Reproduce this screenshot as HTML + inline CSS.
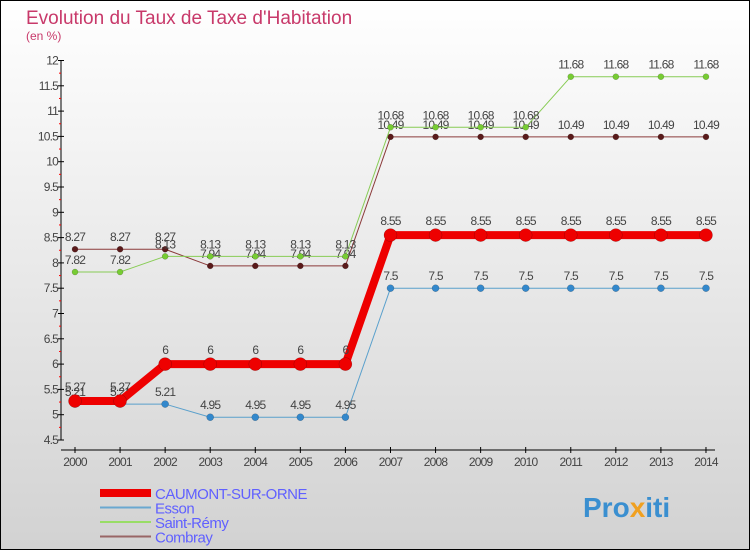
<!DOCTYPE html>
<html><head><meta charset="utf-8"><style>
html,body{margin:0;padding:0}
body{width:750px;height:550px;overflow:hidden;font-family:"Liberation Sans",sans-serif}
</style></head><body>
<svg id="c" width="750" height="550" xmlns="http://www.w3.org/2000/svg">
<defs><linearGradient id="bg" x1="0" y1="0" x2="0" y2="1"><stop offset="0" stop-color="#ffffff"/><stop offset="1" stop-color="#d2d2d2"/></linearGradient></defs>
<rect x="0.5" y="0.5" width="749" height="549" fill="url(#bg)" stroke="#000"/>
<text x="26" y="24" font-size="19" fill="#c8396a">Evolution du Taux de Taxe d'Habitation</text>
<text x="26" y="40" font-size="12" fill="#c8396a">(en %)</text>
<g id="axes"></g><g id="series"></g><g id="legend"></g>
<text x="583" y="517" font-size="28" font-weight="bold" fill="#3a8fd0">Pro<tspan fill="#f0a020">x</tspan>iti</text>
</svg>
<script>
const years=[2000,2001,2002,2003,2004,2005,2006,2007,2008,2009,2010,2011,2012,2013,2014];
const yTicks=[4.5,5,5.5,6,6.5,7,7.5,8,8.5,9,9.5,10,10.5,11,11.5,12];
const caumont=[5.27,5.27,6,6,6,6,6,8.55,8.55,8.55,8.55,8.55,8.55,8.55,8.55];
const esson=[5.21,5.21,5.21,4.95,4.95,4.95,4.95,7.5,7.5,7.5,7.5,7.5,7.5,7.5,7.5];
const stremy=[7.82,7.82,8.13,8.13,8.13,8.13,8.13,10.68,10.68,10.68,10.68,11.68,11.68,11.68,11.68];
const combray=[8.27,8.27,8.27,7.94,7.94,7.94,7.94,10.49,10.49,10.49,10.49,10.49,10.49,10.49,10.49];
const NS="http://www.w3.org/2000/svg";
const x=i=>75+i*45.07;
const y=v=>440-(v-4.5)*50.6;
function mk(tag,attrs,parent,txt){const e=document.createElementNS(NS,tag);for(const k in attrs)e.setAttribute(k,attrs[k]);if(txt!==undefined)e.textContent=txt;parent.appendChild(e);return e;}
const ax=document.getElementById('axes');
let yl=mk('line',{x1:61,y1:60,x2:61,y2:440,stroke:'#000'},ax);


let xl=mk('line',{x1:61,y1:450,x2:715,y2:450,stroke:'#000'},ax);


yTicks.forEach((v,i)=>{
  mk('line',{x1:58,y1:y(v),x2:64,y2:y(v),stroke:'#000'},ax);
  if(i<yTicks.length-1)mk('line',{x1:59,y1:y(v+0.25),x2:61,y2:y(v+0.25),stroke:'#f00'},ax);
  const t=mk('text',{x:58,y:y(v)+4,'font-size':12,fill:'#444','text-anchor':'end','letter-spacing':'-0.8'},ax,String(v));
  
  
});
years.forEach((yr,i)=>{
  mk('line',{x1:x(i),y1:447,x2:x(i),y2:453,stroke:'#000'},ax);
  const t=mk('text',{x:x(i),y:466,'font-size':12,fill:'#444','text-anchor':'middle','letter-spacing':'-0.8'},ax,String(yr));
  
  
});
const sg=document.getElementById('series');
function series(data,name,color,dot,w,r,lab){
  const g=mk('g',{},sg);
  
  
  mk('polyline',{points:data.map((v,i)=>x(i)+','+y(v)).join(' '),fill:'none',stroke:color,'stroke-width':w,'stroke-linejoin':'round'},g);
  data.forEach((v,i)=>{
    const c=mk('circle',{cx:x(i),cy:y(v),r:r,fill:dot,stroke:'rgba(0,0,0,0.3)','stroke-width':0.5},g);
    
    
    mk('text',{x:x(i),y:y(v)-(lab),'font-size':12,fill:'#444','text-anchor':'middle','letter-spacing':'-0.8'},g,String(v));
  });
}
series(combray,'combray-series','#8b3a3a','#5a1a1a',1,3,8);
series(stremy,'saint-remy-series','#88cc55','#77cc33',1,3,8);
series(esson,'esson-series','#5aa0cc','#3388cc',1,3.5,8);
series(caumont,'caumont-series','#ee0000','#ee0000',8,6.5,10);
const lg=document.getElementById('legend');
const names=['CAUMONT-SUR-ORNE','Esson','Saint-Rémy','Combray'];
const cols=['#ee0000','#6aa8d0','#99dd66','#996666'];
const ws=[8,2,2,2];
names.forEach((n,i)=>{
  const yy=493+i*14.5;
  const g=mk('g',{},lg);
  
  
  mk('line',{x1:100,y1:yy,x2:151,y2:yy,stroke:cols[i],'stroke-width':ws[i]},g);
  mk('text',{x:155,y:yy+6,'font-size':15,fill:'#6060ff','letter-spacing':'-0.5'},g,n);
});
</script>
</body></html>
